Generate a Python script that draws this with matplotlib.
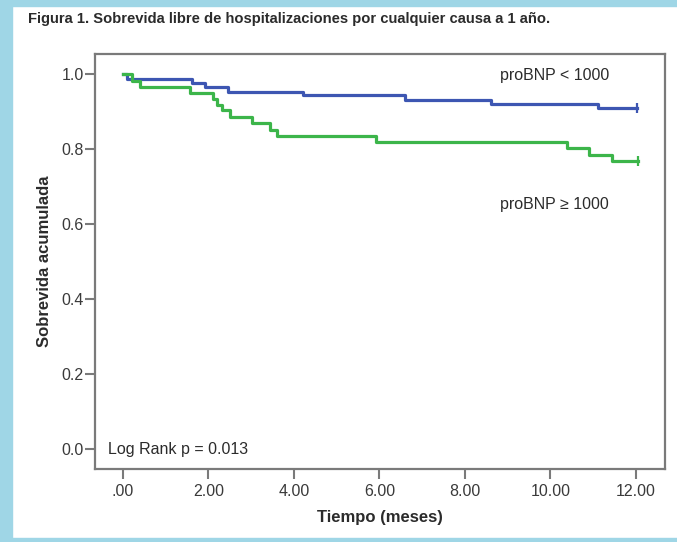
import matplotlib
matplotlib.use("Agg")
import matplotlib.pyplot as plt
from matplotlib.patches import Rectangle
from matplotlib import font_manager

plt.rcParams['font.family'] = ['Liberation Sans', 'DejaVu Sans']

# Kaplan-Meier steps (time in months, cumulative survival)
t_low = [0.0, 0.1, 1.61, 1.92, 2.46, 4.21, 6.60, 8.62, 11.12, 12.02]
s_low = [1.0, 0.987, 0.975, 0.964, 0.953, 0.943, 0.931, 0.919, 0.908, 0.908]

t_high = [0.0, 0.2, 0.4, 1.57, 2.11, 2.19, 2.31, 2.50, 3.01, 3.44, 3.60,
          5.93, 10.39, 10.91, 11.43, 12.05]
s_high = [1.0, 0.982, 0.965, 0.949, 0.933, 0.917, 0.904, 0.886, 0.869,
          0.851, 0.835, 0.819, 0.802, 0.784, 0.769, 0.769]

xticks = [0, 2, 4, 6, 8, 10, 12]
xticklabels = ['.00', '2.00', '4.00', '6.00', '8.00', '10.00', '12.00']
yticks = [0.0, 0.2, 0.4, 0.6, 0.8, 1.0]
yticklabels = ['0.0', '0.2', '0.4', '0.6', '0.8', '1.0']

blue = '#3d56b2'
green = '#3cb54a'
frame = '#9fd6e6'
gray = '#7a7a7a'
txt = '#2b2b2b'

W, H = 677, 542
fig = plt.figure(figsize=(W / 100, H / 100), dpi=100)

# light blue frame around the figure
fig.patches.append(Rectangle((0, 0), 12 / W, 1, transform=fig.transFigure, color=frame, zorder=0))
fig.patches.append(Rectangle((0, 1 - 6 / H), 1, 6 / H, transform=fig.transFigure, color=frame, zorder=0))
fig.patches.append(Rectangle((0, 0), 1, 4 / H, transform=fig.transFigure, color=frame, zorder=0))

# title in a narrow bold face if it exists
title = 'Figura 1. Sobrevida libre de hospitalizaciones por cualquier causa a 1 año.'
names = {f.name for f in font_manager.fontManager.ttflist}
if 'Liberation Sans Narrow' in names:
    fig.text(28 / W, 1 - 19 / H, title, fontsize=11, fontweight='bold',
             family='Liberation Sans Narrow', color=txt, va='center')
else:
    fig.text(28 / W, 1 - 19 / H, title, fontsize=10.6, fontweight='bold', color=txt, va='center')

ax = fig.add_axes([95 / W, 1 - 469 / H, 570 / W, 415 / H])

ax.step(t_low, s_low, where='post', color=blue, lw=2.3)
ax.step(t_high, s_high, where='post', color=green, lw=2.3)
ax.plot(t_low[-1], s_low[-1], marker='|', ms=7, mew=1.6, color=blue)
ax.plot(t_high[-1], s_high[-1], marker='|', ms=7, mew=1.6, color=green)

ax.set_xlim(-0.655, 12.68)
ax.set_ylim(-0.053, 1.053)
ax.set_xticks(xticks)
ax.set_xticklabels(xticklabels)
ax.set_yticks(yticks)
ax.set_yticklabels(yticklabels)

for sp in ax.spines.values():
    sp.set_color(gray)
    sp.set_linewidth(1.6)
ax.tick_params(direction='out', length=7, width=1.5, color=gray,
               labelsize=11.5, labelcolor='#3a3a3a')
ax.tick_params(axis='x', pad=4)
ax.tick_params(axis='y', pad=1)

ax.set_xlabel('Tiempo (meses)', fontsize=12, fontweight='bold', color=txt, labelpad=8)
ax.set_ylabel('Sobrevida acumulada', fontsize=12, fontweight='bold', color=txt, labelpad=7)

ax.text(8.82, 0.997, 'proBNP < 1000', fontsize=11.5, color=txt, va='center')
ax.text(8.82, 0.651, 'proBNP ≥ 1000', fontsize=11.5, color=txt, va='center')
ax.text(-0.35, 0.0, 'Log Rank p = 0.013', fontsize=11.5, color=txt, va='center')

fig.savefig('out.png', dpi=100)
